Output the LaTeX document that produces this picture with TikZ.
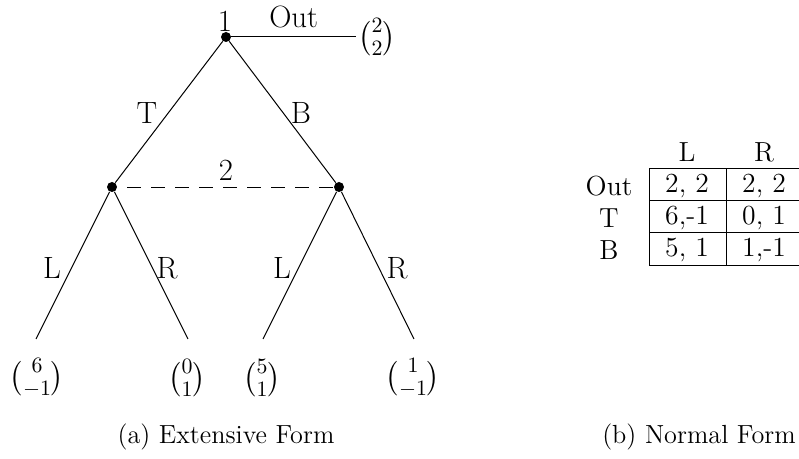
\documentclass[tikz,border=0pt]{standalone}
\usepackage{amsmath}
\usetikzlibrary{positioning}

\tikzset{
  bigfont/.style={font=\fontsize{15.4}{18.5}\selectfont},
  tabfont/.style={font=\fontsize{13.8}{16.5}\selectfont},
  capfont/.style={font=\fontsize{13.1}{15.7}\selectfont},
  decnode/.style={circle, fill, inner sep=0pt, minimum size=5pt},
  payoff/.style={inner sep=1pt},
  branch/.style={line width=0.5pt},
  infoset/.style={line width=0.45pt, dash pattern=on 7pt off 5pt, dash phase=7pt},
  gridline/.style={line width=0.5pt}
}

\begin{document}
\begin{tikzpicture}[x=0.5pt, y=-0.5pt, every node/.style={bigfont}]
  \useasboundingbox (0,0) rectangle (799,459);

  % extensive form
  \node[decnode] (root) at (226,37) {};
  \node[decnode] (p2l) at (112,187) {};
  \node[decnode] (p2r) at (339,187) {};
  \node (rootlbl) at (225,21) {1};
  \node[payoff] (outpay) at (377,37) {$\binom{2}{2}$};
  \draw[branch] (root) -- node[above=1pt] {Out} (outpay);
  \draw[branch] (root) -- (p2l);
  \draw[branch] (root) -- (p2r);
  \node (tlbl) at (147,113) {T};
  \node (blbl) at (301,113) {B};
  \draw[infoset] (p2l) -- (p2r);
  \node (p2lbl) at (226,170) {2};

  \coordinate (ll) at (36,339);
  \coordinate (lr) at (188,339);
  \coordinate (rl) at (263,339);
  \coordinate (rr) at (414,339);
  \draw[branch] (p2l) -- (ll);
  \draw[branch] (p2l) -- (lr);
  \draw[branch] (p2r) -- (rl);
  \draw[branch] (p2r) -- (rr);
  \node (lllbl) at (52,268) {L};
  \node (lrlbl) at (167,268) {R};
  \node (rllbl) at (282,268) {L};
  \node (rrlbl) at (397,268) {R};
  \node[payoff] (llpay) at (37,378) {$\binom{6}{-1}$};
  \node[payoff] (lrpay) at (187,378) {$\binom{0}{1}$};
  \node[payoff] (rlpay) at (262,378) {$\binom{5}{1}$};
  \node[payoff] (rrpay) at (413,378) {$\binom{1}{-1}$};

  % normal form
  \begin{scope}[every node/.style={tabfont}]
    \node (colL) at (687,152) {L};
    \node (colR) at (764,152) {R};
    \node (rowout) at (609,186) {Out};
    \node (rowT) at (609,218) {T};
    \node (rowB) at (609,250) {B};
    \node (c11) at (687,186) {2, 2};
    \node (c12) at (764,186) {2, 2};
    \node (c21) at (687,218) {6,-1};
    \node (c22) at (764,218) {0, 1};
    \node (c31) at (687,250) {5, 1};
    \node (c32) at (764,250) {1,-1};
  \end{scope}
  \foreach \gx in {649,726,803}
    \draw[gridline] (\gx,169) -- (\gx,266);
  \foreach \gy in {169,201,233,266}
    \draw[gridline] (649,\gy) -- (803,\gy);

  % captions
  \node[capfont] (capa) at (226,437) {(a) Extensive Form};
  \node[capfont] (capb) at (699,437) {(b) Normal Form};
\end{tikzpicture}
\end{document}
